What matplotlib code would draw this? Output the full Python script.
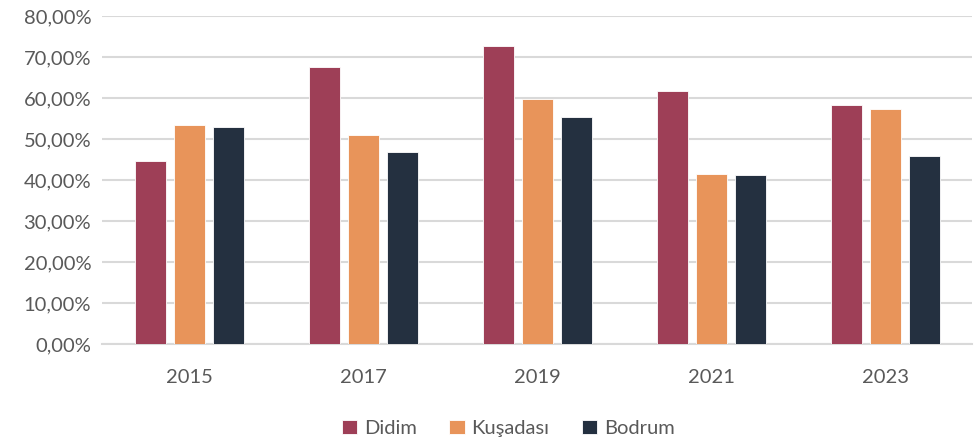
import matplotlib
matplotlib.use("Agg")
import matplotlib.pyplot as plt
import numpy as np
from matplotlib.ticker import FuncFormatter

years = ["2015", "2017", "2019", "2021", "2023"]
didim = [44.6, 67.7, 72.8, 61.7, 58.3]
kusadasi = [53.6, 51.0, 59.8, 41.6, 57.3]
bodrum = [52.9, 47.0, 55.4, 41.4, 45.8]
series_names = ["Didim", "Kuşadası", "Bodrum"]
colors = ["#9E3F57", "#E8945A", "#243040"]

plt.rcParams['font.family'] = ['Lato', 'DejaVu Sans']

fig = plt.figure(figsize=(9.74, 4.43), dpi=100)
ax = fig.add_axes([0.105, 0.2235, 0.893, 0.7393])

x = np.arange(len(years))
w = 0.178
off = 0.224
for i, (vals, name, c) in enumerate(zip([didim, kusadasi, bodrum], series_names, colors)):
    ax.bar(x + (i - 1) * off, [v / 100 for v in vals], width=w, color=c, label=name,
           edgecolor="white", linewidth=0.6, zorder=3)

ax.set_xlim(-0.5, len(years) - 0.5)
ax.set_ylim(0, 0.8)
ax.set_yticks(np.arange(0, 0.81, 0.1))
ax.yaxis.set_major_formatter(FuncFormatter(lambda v, p: f"{v*100:.2f}%".replace(".", ",")))
ax.set_xticks(x)
ax.set_xticklabels(years)
ax.grid(axis="y", color="#D9D9D9", linewidth=1.5, zorder=0)
for s in ["top", "right", "left"]:
    ax.spines[s].set_visible(False)
ax.spines["bottom"].set_color("#D9D9D9")
ax.spines["bottom"].set_linewidth(1.5)
ax.tick_params(axis="both", length=0, labelsize=14.5, colors="#595959")
ax.tick_params(axis="x", pad=18)
ax.tick_params(axis="y", pad=8)

leg = fig.legend(loc="center", bbox_to_anchor=(0.522, 0.033), ncol=3, frameon=False,
                 fontsize=14.5, handlelength=0.75, handleheight=0.75, handletextpad=0.35,
                 columnspacing=1.6)
for t in leg.get_texts():
    t.set_color("#595959")

fig.savefig("out.png", dpi=100)
